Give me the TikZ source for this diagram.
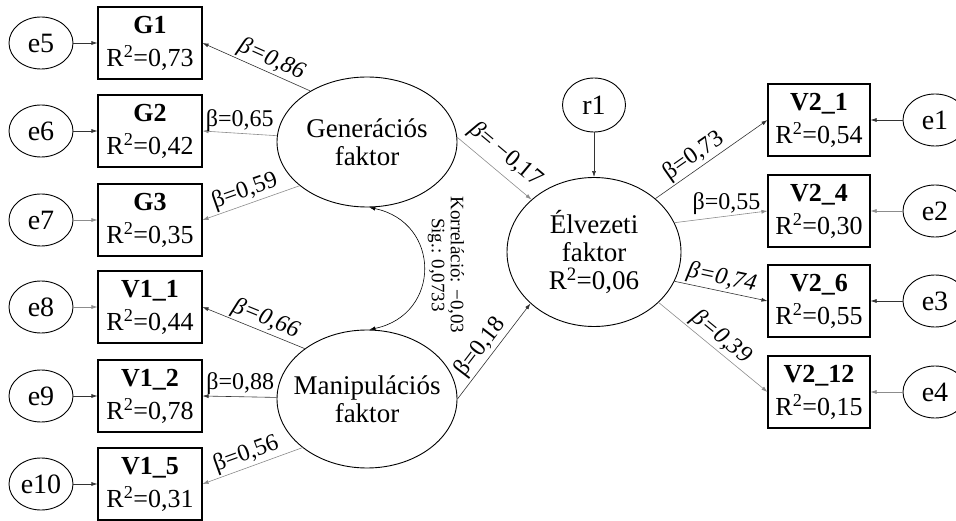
\documentclass[tikz,border=0pt]{standalone}
\usepackage{fontspec}
\setmainfont{Liberation Serif}
\usetikzlibrary{
    positioning,
    arrows.meta,
    shapes.geometric
    }

\begin{document}
\begin{tikzpicture}[x=1pt, y=1pt]
\tikzset{latent/.style =
        {
            shape=ellipse,
            line width=0.9pt,
            inner xsep=-18pt,
            inner ysep=0pt,
            align=center,
            font=\fontsize{27}{28}\selectfont,
            draw
        }
}

\tikzset{err/.style =
        {
            latent,
            inner xsep=0pt,
            minimum width=64pt,
            minimum height=52pt,
            font=\fontsize{28}{28}\selectfont
        }
}

\tikzset{item/.style =
        {
            rectangle,
            line width=1.1pt,
            minimum width=104pt,
            minimum height=72pt,
            inner sep=0pt,
            align=center,
            font=\fontsize{26}{33}\selectfont,
            draw
        }
}

\tikzset{load/.style = {
            line width=0.6pt,
            black!80,
            -{Latex[length=6pt, width=4pt]}
        }
}

\tikzset{faint/.style = { load, black!45 } }

\tikzset{lbl/.style = {
            above,
            inner sep=1.5pt,
            text=black,
            font=\fontsize{24}{24}\selectfont
        }
}

\tikzset{slbl/.style = { lbl, sloped } }

\tikzset{corr/.style = {
            align=center,
            inner sep=0pt,
            font=\fontsize{19}{19}\selectfont
        }
}
		\useasboundingbox (0,0) rectangle (956,520);

		\node[latent, minimum width=180pt, minimum height=130pt] (gen) at (367,378) {Generációs\\faktor};
		\node[latent, minimum width=180pt, minimum height=138pt] (man) at (367,121) {Manipulációs\\faktor};
		\node[latent, minimum width=174pt, minimum height=149pt] (elv) at (594,268) {Élvezeti\\faktor\\R\textsuperscript{2}=0,06};
		\node[err, minimum width=63pt, minimum height=54pt] (r1) at (594,415) {r1};

		\foreach \nm / \ttl / \rsq / \ypos / \err / \sty in
			{g1/G1/{0,73}/477/e5/load,
				g2/G2/{0,42}/389/e6/load,
				g3/G3/{0,35}/300/e7/faint,
				v11/V1\_1/{0,44}/213/e8/faint,
				v12/V1\_2/{0,78}/124/e9/load,
				v15/V1\_5/{0,31}/36/e10/load}
		{
			\node[item] (\nm) at (150,\ypos) {\textbf{\ttl}\\R\textsuperscript{2}=\rsq};
			\node[err] (\err) at (41,\ypos) {\err};
			\draw[\sty] (\err) -- (\nm);
		}

		\foreach \nm / \ttl / \rsq / \ypos / \err / \sty in
			{v21/V2\_1/{0,54}/400/e1/load,
				v24/V2\_4/{0,30}/309/e2/faint,
				v26/V2\_6/{0,55}/219/e3/load,
				v212/V2\_12/{0,15}/128/e4/faint}
		{
			\node[item, minimum width=102pt] (\nm) at (819,\ypos) {\textbf{\ttl}\\R\textsuperscript{2}=\rsq};
			\node[err] (\err) at (935,\ypos) {\err};
			\draw[\sty] (\err) -- (\nm);
		}

		\draw[load] (gen.138) -- node[slbl, pos=0.41] {\textit{β=0,86}} (g1.east);
		\draw[faint] (gen.176) -- node[lbl, pos=0.5] {β=0,65} (g2.east);
		\draw[faint] (gen.213) -- node[slbl, pos=0.52] {β=0,59} (g3.east);
		\draw[load] (man.141) -- node[slbl, pos=0.43] {\textit{β=0,66}} (v11.east);
		\draw[load] (man.179) -- node[lbl, pos=0.49] {β=0,88} (v12.east);
		\draw[faint] (man.217) -- node[slbl, pos=0.52] {β=0,56} (v15.east);

		\draw[faint] (gen.3) -- node[slbl, above=5pt, pos=0.5] {\textit{β}= −0,17} (elv.140);
		\draw[load] (man.0) -- node[slbl, pos=0.46] {β=0,18} (elv.219);
		\draw[load] (r1) -- (elv);

		\draw[load] (elv.41) -- node[slbl, pos=0.41] {β=0,73} (v21.west);
		\draw[faint] (elv.20) -- node[lbl, pos=0.56] {β=0,55} (v24.west);
		\draw[load] (elv.-20) -- node[slbl, pos=0.48] {\textit{β=0,74}} (v26.west);
		\draw[faint] (elv.-38) -- node[slbl, pos=0.5] {\textit{β=0,39}} (v212.west);

		% correlation between the two predictors
		\draw[line width=0.6pt, {Latex[length=6pt, width=4pt]}-{Latex[length=6pt, width=4pt]}] (gen.-88) .. controls +(72,-15) and +(72,15) .. (man.88);
		\node[corr, rotate=-90] (corrtxt) at (446,255) {Korreláció: −0,03\\Sig.: 0,0733};

	\end{tikzpicture}
\end{document}
